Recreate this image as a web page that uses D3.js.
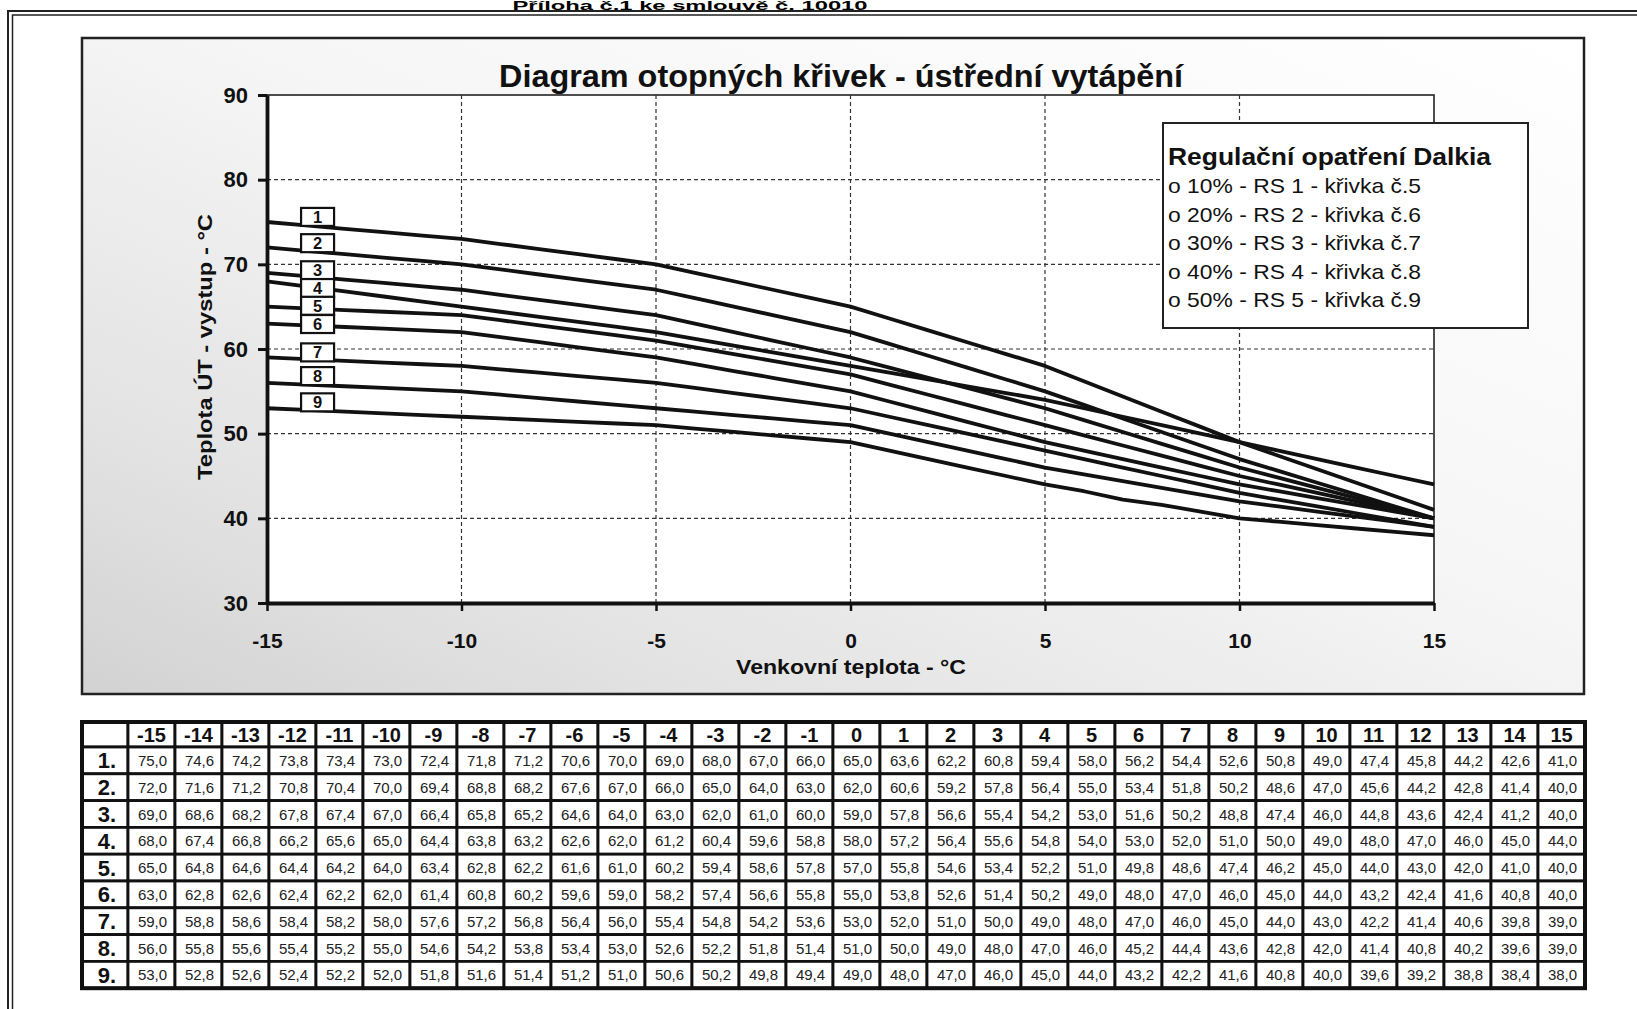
<!DOCTYPE html>
<html>
<head>
<meta charset="utf-8">
<title>Diagram otopných křivek</title>
<style>
  body { margin: 0; background: #fff; }
  svg { display: block; font-family: "Liberation Sans", Arial, sans-serif; }
  .grid line { stroke: #333; stroke-width: 1.2; stroke-dasharray: 4,3; }
  .axis text { font-weight: bold; fill: #111; }
  .axis line, .axis path { stroke: #111; }
</style>
</head>
<body>
<svg width="1637" height="1009"></svg>
<script src="https://cdn.jsdelivr.net/npm/d3@7"></script>
<script>
// outdoor temperature columns (°C)
var temps = [-15, -14, -13, -12, -11, -10, -9, -8, -7, -6, -5, -4, -3, -2, -1, 0,
             1, 2, 3, 4, 5, 6, 7, 8, 9, 10, 11, 12, 13, 14, 15];

// heating curves 1..9 (supply temperature, °C)
var curve1 = [75.0, 74.6, 74.2, 73.8, 73.4, 73.0, 72.4, 71.8, 71.2, 70.6, 70.0, 69.0, 68.0, 67.0, 66.0, 65.0, 63.6, 62.2, 60.8, 59.4, 58.0, 56.2, 54.4, 52.6, 50.8, 49.0, 47.4, 45.8, 44.2, 42.6, 41.0];
var curve2 = [72.0, 71.6, 71.2, 70.8, 70.4, 70.0, 69.4, 68.8, 68.2, 67.6, 67.0, 66.0, 65.0, 64.0, 63.0, 62.0, 60.6, 59.2, 57.8, 56.4, 55.0, 53.4, 51.8, 50.2, 48.6, 47.0, 45.6, 44.2, 42.8, 41.4, 40.0];
var curve3 = [69.0, 68.6, 68.2, 67.8, 67.4, 67.0, 66.4, 65.8, 65.2, 64.6, 64.0, 63.0, 62.0, 61.0, 60.0, 59.0, 57.8, 56.6, 55.4, 54.2, 53.0, 51.6, 50.2, 48.8, 47.4, 46.0, 44.8, 43.6, 42.4, 41.2, 40.0];
var curve4 = [68.0, 67.4, 66.8, 66.2, 65.6, 65.0, 64.4, 63.8, 63.2, 62.6, 62.0, 61.2, 60.4, 59.6, 58.8, 58.0, 57.2, 56.4, 55.6, 54.8, 54.0, 53.0, 52.0, 51.0, 50.0, 49.0, 48.0, 47.0, 46.0, 45.0, 44.0];
var curve5 = [65.0, 64.8, 64.6, 64.4, 64.2, 64.0, 63.4, 62.8, 62.2, 61.6, 61.0, 60.2, 59.4, 58.6, 57.8, 57.0, 55.8, 54.6, 53.4, 52.2, 51.0, 49.8, 48.6, 47.4, 46.2, 45.0, 44.0, 43.0, 42.0, 41.0, 40.0];
var curve6 = [63.0, 62.8, 62.6, 62.4, 62.2, 62.0, 61.4, 60.8, 60.2, 59.6, 59.0, 58.2, 57.4, 56.6, 55.8, 55.0, 53.8, 52.6, 51.4, 50.2, 49.0, 48.0, 47.0, 46.0, 45.0, 44.0, 43.2, 42.4, 41.6, 40.8, 40.0];
var curve7 = [59.0, 58.8, 58.6, 58.4, 58.2, 58.0, 57.6, 57.2, 56.8, 56.4, 56.0, 55.4, 54.8, 54.2, 53.6, 53.0, 52.0, 51.0, 50.0, 49.0, 48.0, 47.0, 46.0, 45.0, 44.0, 43.0, 42.2, 41.4, 40.6, 39.8, 39.0];
var curve8 = [56.0, 55.8, 55.6, 55.4, 55.2, 55.0, 54.6, 54.2, 53.8, 53.4, 53.0, 52.6, 52.2, 51.8, 51.4, 51.0, 50.0, 49.0, 48.0, 47.0, 46.0, 45.2, 44.4, 43.6, 42.8, 42.0, 41.4, 40.8, 40.2, 39.6, 39.0];
var curve9 = [53.0, 52.8, 52.6, 52.4, 52.2, 52.0, 51.8, 51.6, 51.4, 51.2, 51.0, 50.6, 50.2, 49.8, 49.4, 49.0, 48.0, 47.0, 46.0, 45.0, 44.0, 43.2, 42.2, 41.6, 40.8, 40.0, 39.6, 39.2, 38.8, 38.4, 38.0];

var curveNames = ["1", "2", "3", "4", "5", "6", "7", "8", "9"];
var rowLabels = ["1.", "2.", "3.", "4.", "5.", "6.", "7.", "8.", "9."];

// where the numbered label boxes sit (data units)
var labelTemp = -13.7;
var labelLevels = [75.6, 72.5, 69.3, 67.2, 65.1, 62.95, 59.6, 56.8, 53.7];

var xTicks = [-15, -10, -5, 0, 5, 10, 15];
var yTicks = [30, 40, 50, 60, 70, 80, 90];
var xGrid = [-10, -5, 0, 5, 10];
var yGrid = [40, 50, 60, 70, 80];

var legendTitle = "Regulační opatření Dalkia";
var legendItems = ["o 10% - RS 1 - křivka č.5", "o 20% - RS 2 - křivka č.6",
                   "o 30% - RS 3 - křivka č.7", "o 40% - RS 4 - křivka č.8",
                   "o 50% - RS 5 - křivka č.9"];

var curves = [curve1, curve2, curve3, curve4, curve5, curve6, curve7, curve8, curve9];

var svg = d3.select("svg");

// stretch text to a measured width, the scan is a bit condensed
function fit(sel, w) {
  return sel.attr("textLength", w).attr("lengthAdjust", "spacingAndGlyphs");
}

// page header at the very top of the scan
fit(svg.append("text")
    .attr("x", 690).attr("y", 9.5)
    .attr("text-anchor", "middle")
    .attr("font-size", 12).attr("font-weight", "bold")
    .text("Příloha č.1 ke smlouvě č. 10010"), 355);

// outer page frame (double line)
var frame = svg.append("g").attr("stroke", "#222").attr("fill", "none");
frame.append("path").attr("d", "M8,1009 V11 H1637").attr("stroke-width", 2);
frame.append("path").attr("d", "M12.5,1009 V15 H1637").attr("stroke-width", 1.5);

// chart area with the grey scan shading
var defs = svg.append("defs");
var grad = defs.append("linearGradient").attr("id", "shade")
    .attr("x1", 1).attr("y1", 0).attr("x2", 0).attr("y2", 1);
grad.append("stop").attr("offset", 0).attr("stop-color", "#ffffff");
grad.append("stop").attr("offset", 0.45).attr("stop-color", "#f6f6f6");
grad.append("stop").attr("offset", 0.8).attr("stop-color", "#e2e2e2");
grad.append("stop").attr("offset", 1).attr("stop-color", "#d2d2d2");

svg.append("rect")
    .attr("x", 82).attr("y", 38).attr("width", 1502).attr("height", 656)
    .attr("fill", "url(#shade)").attr("stroke", "#222").attr("stroke-width", 2.5);

var x = d3.scaleLinear().domain([-15, 15]).range([267, 1434]);
var y = d3.scaleLinear().domain([30, 90]).range([603, 95]);

// plot area
svg.append("rect")
    .attr("x", x(-15)).attr("y", y(90))
    .attr("width", x(15) - x(-15)).attr("height", y(30) - y(90))
    .attr("fill", "#fff").attr("stroke", "#222").attr("stroke-width", 1.6);

// dashed grid
var grid = svg.append("g").attr("class", "grid");
grid.selectAll(".gx").data(xGrid).enter().append("line")
    .attr("x1", function(d) { return x(d); }).attr("x2", function(d) { return x(d); })
    .attr("y1", y(90)).attr("y2", y(30));
grid.selectAll(".gy").data(yGrid).enter().append("line")
    .attr("x1", x(-15)).attr("x2", x(15))
    .attr("y1", function(d) { return y(d); }).attr("y2", function(d) { return y(d); });

// curves
var line = d3.line()
    .x(function(d, i) { return x(temps[i]); })
    .y(function(d) { return y(d); });

svg.append("g").selectAll("path")
    .data(curves)
  .enter().append("path")
    .attr("d", line)
    .attr("fill", "none")
    .attr("stroke", "#111")
    .attr("stroke-width", 3.8)
    .attr("stroke-linejoin", "round");

// axes (plain hyphen minus like the original)
var plain = function(d) { return String(d); };

var yAxis = svg.append("g")
    .attr("class", "axis")
    .attr("transform", "translate(" + x(-15) + ",0)")
    .call(d3.axisLeft(y).tickValues(yTicks).tickFormat(plain)
      .tickSize(9).tickSizeOuter(0).tickPadding(10));
yAxis.selectAll("text").attr("font-size", 22).attr("font-family", "Liberation Sans, Arial, sans-serif");
yAxis.select(".domain").attr("stroke-width", 3.8);
yAxis.selectAll(".tick line").attr("stroke-width", 3);

var xAxis = svg.append("g")
    .attr("class", "axis")
    .attr("transform", "translate(0," + y(30) + ")")
    .call(d3.axisBottom(x).tickValues(xTicks).tickFormat(plain)
      .tickSize(8).tickSizeOuter(0).tickPadding(22));
xAxis.selectAll("text").attr("font-size", 21).attr("font-family", "Liberation Sans, Arial, sans-serif");
xAxis.select(".domain").attr("stroke-width", 3.8);
xAxis.selectAll(".tick line").attr("stroke-width", 2.5);

// numbered label boxes
var tags = svg.append("g").selectAll("g")
    .data(curveNames)
  .enter().append("g")
    .attr("transform", function(d, i) {
      return "translate(" + x(labelTemp) + "," + y(labelLevels[i]) + ")";
    });
tags.append("rect")
    .attr("x", -16.5).attr("y", -9).attr("width", 33).attr("height", 18)
    .attr("fill", "#fff").attr("stroke", "#111").attr("stroke-width", 2.2);
tags.append("text")
    .attr("text-anchor", "middle").attr("dy", 6)
    .attr("font-size", 16.5).attr("font-weight", "bold").attr("fill", "#111")
    .text(function(d) { return d; });

// title
fit(svg.append("text")
    .attr("x", 841).attr("y", 87)
    .attr("text-anchor", "middle")
    .attr("font-size", 32).attr("font-weight", "bold").attr("fill", "#111")
    .text("Diagram otopných křivek - ústřední vytápění"), 684);

// axis titles
fit(svg.append("text")
    .attr("transform", "translate(212,347) rotate(-90)")
    .attr("text-anchor", "middle")
    .attr("font-size", 21).attr("font-weight", "bold").attr("fill", "#111")
    .text("Teplota ÚT - vystup - °C"), 266);

fit(svg.append("text")
    .attr("x", 851).attr("y", 674)
    .attr("text-anchor", "middle")
    .attr("font-size", 20).attr("font-weight", "bold").attr("fill", "#111")
    .text("Venkovní teplota - °C"), 230);

// legend box
var legend = svg.append("g");
legend.append("rect")
    .attr("x", 1163).attr("y", 123).attr("width", 365).attr("height", 205)
    .attr("fill", "#fff").attr("stroke", "#222").attr("stroke-width", 2);
fit(legend.append("text")
    .attr("x", 1168).attr("y", 165)
    .attr("font-size", 24).attr("font-weight", "bold").attr("fill", "#111")
    .text(legendTitle), 323);
legend.selectAll(".item").data(legendItems).enter().append("text")
    .attr("x", 1168)
    .attr("y", function(d, i) { return 193 + i * 28.5; })
    .attr("font-size", 21).attr("fill", "#111")
    .attr("textLength", 253).attr("lengthAdjust", "spacingAndGlyphs")
    .text(function(d) { return d; });

// value table
var fmt = function(v) { return d3.format(".1f")(v).replace(".", ","); };
var tblLeft = 82, tblTop = 722, tblRight = 1585, firstW = 46, headH = 25, rowH = 26.8;
var colW = (tblRight - tblLeft - firstW) / temps.length;
var colX = function(i) { return tblLeft + firstW + i * colW; };
var rowY = function(r) { return tblTop + headH + r * rowH; };

var table = svg.append("g");

// header row
var head = table.append("g");
head.append("rect")
    .attr("x", tblLeft).attr("y", tblTop).attr("width", firstW).attr("height", headH)
    .attr("fill", "#fff").attr("stroke", "#111").attr("stroke-width", 2.8);
head.selectAll(".h").data(temps).enter().append("g")
  .each(function(d, i) {
    var g = d3.select(this);
    g.append("rect")
      .attr("x", colX(i)).attr("y", tblTop).attr("width", colW).attr("height", headH)
      .attr("fill", "#fff").attr("stroke", "#111").attr("stroke-width", 2.8);
    g.append("text")
      .attr("x", colX(i) + colW / 2).attr("y", tblTop + headH / 2 + 7)
      .attr("text-anchor", "middle")
      .attr("font-size", 20).attr("font-weight", "bold").attr("fill", "#111")
      .text(d);
  });

// data rows
var rows = table.selectAll(".row").data(curves).enter().append("g");
rows.each(function(vals, r) {
  var g = d3.select(this);
  g.append("rect")
    .attr("x", tblLeft).attr("y", rowY(r)).attr("width", firstW).attr("height", rowH)
    .attr("fill", "#fff").attr("stroke", "#111").attr("stroke-width", 2.8);
  g.append("text")
    .attr("x", tblLeft + firstW / 2 + 2).attr("y", rowY(r) + rowH / 2 + 8)
    .attr("text-anchor", "middle")
    .attr("font-size", 22).attr("font-weight", "bold").attr("fill", "#111")
    .text(rowLabels[r]);
  g.selectAll(".c").data(vals).enter().append("rect")
    .attr("x", function(d, i) { return colX(i); })
    .attr("y", rowY(r)).attr("width", colW).attr("height", rowH)
    .attr("fill", "#fff").attr("stroke", "#111").attr("stroke-width", 2.8);
  g.selectAll(".t").data(vals).enter().append("text")
    .attr("x", function(d, i) { return colX(i) + colW / 2 + 1; })
    .attr("y", rowY(r) + rowH / 2 + 5.5)
    .attr("text-anchor", "middle")
    .attr("font-size", 15).attr("fill", "#222")
    .text(fmt);
});

// heavy outer border of the table
table.append("rect")
    .attr("x", tblLeft).attr("y", tblTop)
    .attr("width", tblRight - tblLeft).attr("height", headH + rowH * curves.length)
    .attr("fill", "none").attr("stroke", "#111").attr("stroke-width", 4);
</script>
</body>
</html>
